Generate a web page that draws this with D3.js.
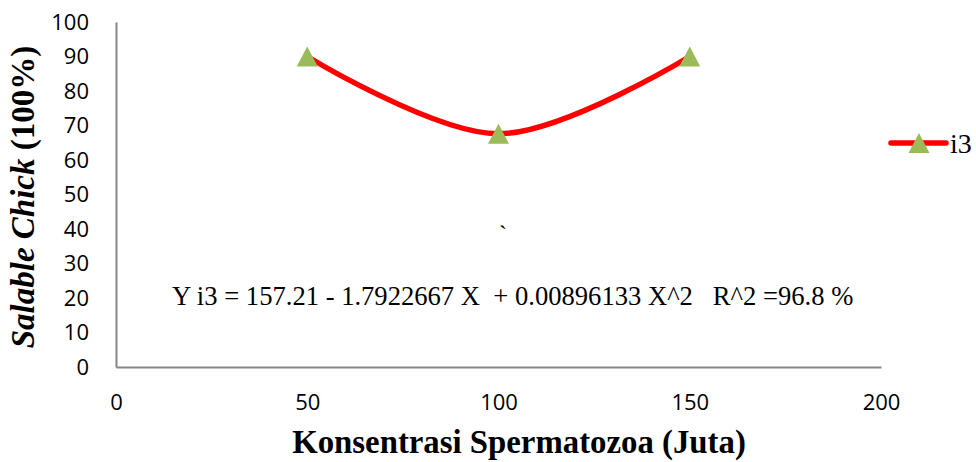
<!DOCTYPE html>
<html><head><meta charset="utf-8">
<script src="https://cdn.jsdelivr.net/npm/d3@7"></script>
<style>body{margin:0;background:#fff}svg{display:block}</style>
</head><body>
<svg id="c" width="976" height="462"></svg>
<script>
const xValues = [50, 100, 150];
const seriesI3 = [90, 67.6, 90];
const seriesName = "i3";
const xTicks = [0, 50, 100, 150, 200];
const yTicks = [0, 10, 20, 30, 40, 50, 60, 70, 80, 90, 100];
const xTitle = "Konsentrasi Spermatozoa (Juta)";
const yTitleItalic = "Salable Chick";
const yTitleRest = " (100%)";
const equation = "Y i3 = 157.21 - 1.7922667 X\u00A0\u00A0+ 0.00896133 X^2\u00A0\u00A0\u00A0R^2 =96.8 %";

const svg = d3.select("#c");
const x = d3.scaleLinear().domain([0, 200]).range([116, 881]);
const y = d3.scaleLinear().domain([0, 100]).range([367, 22]);
const tickFont = "'Open Sans', 'Liberation Sans', sans-serif";
const serif = "'Liberation Serif', 'Times New Roman', serif";

const gx = svg.append("g").attr("transform", `translate(0,${y(0)})`)
  .call(d3.axisBottom(x).tickValues(xTicks).tickSize(0).tickPadding(27).tickFormat(d3.format("d")));
const gy = svg.append("g").attr("transform", `translate(${x(0)},0)`)
  .call(d3.axisLeft(y).tickValues(yTicks).tickSize(0).tickPadding(27).tickFormat(d3.format("d")));
[gx, gy].forEach(g => {
  g.select(".domain").attr("stroke", "#868686").attr("stroke-width", 2);
  g.selectAll("text").attr("font-family", tickFont).attr("font-size", 22).attr("fill", "#000");
});

const line = d3.line().x((d, i) => x(xValues[i])).y(d => y(d)).curve(d3.curveCardinal.tension(0));
svg.append("path").datum(seriesI3).attr("d", line)
  .attr("fill", "none").attr("stroke", "#FF0000").attr("stroke-width", 5.5).attr("stroke-linecap", "round");

const tri = (cx, cy) => `M${cx},${cy-10}L${cx+10.5},${cy+10}L${cx-10.5},${cy+10}Z`;
svg.selectAll(".m").data(seriesI3).enter().append("path")
  .attr("d", (d, i) => tri(x(xValues[i]), y(d))).attr("fill", "#9BBB59");

// legend
const lg = svg.append("g");
lg.append("line").attr("x1", 891).attr("x2", 946).attr("y1", 143).attr("y2", 143)
  .attr("stroke", "#FF0000").attr("stroke-width", 5.5).attr("stroke-linecap", "round");
lg.append("path").attr("d", tri(919, 143)).attr("fill", "#9BBB59");
lg.append("text").attr("x", 950).attr("y", 153).text(seriesName)
  .attr("font-family", serif).attr("font-size", 28);

// equation
svg.append("text").attr("x", 172).attr("y", 305).text(equation)
  .attr("font-family", serif).attr("font-size", 26.6);
svg.append("text").attr("x", 499).attr("y", 242).text("`")
  .attr("font-family", serif).attr("font-size", 24);

// titles
svg.append("text").attr("x", (293 + 745) / 2).attr("y", 453).attr("text-anchor", "middle").text(xTitle)
  .attr("font-family", serif).attr("font-size", 32.8).attr("font-weight", "bold");
const yt = svg.append("text").attr("transform", "translate(34,197) rotate(-90)").attr("text-anchor", "middle")
  .attr("font-family", serif).attr("font-size", 33).attr("font-weight", "bold");
yt.append("tspan").attr("font-style", "italic").text(yTitleItalic);
yt.append("tspan").text(yTitleRest);
</script>
</body></html>
